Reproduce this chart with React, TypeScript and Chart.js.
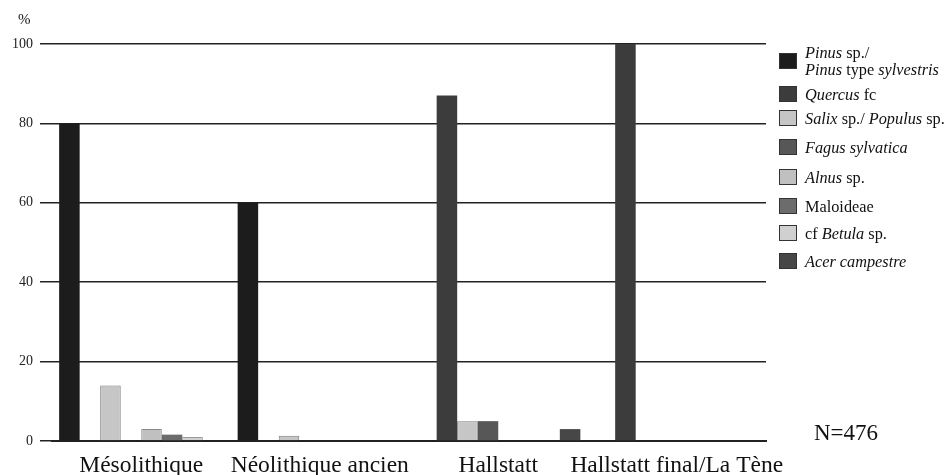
import React, { useEffect, useRef } from "react";
import { Chart, registerables } from "chart.js";

Chart.register(...registerables);

const categories = ["Mésolithique", "Néolithique ancien", "Hallstatt", "Hallstatt final/La Tène"];

const pinusValues = [80, 60, 0, 0];
const quercusValues = [0, 0, 87, 100];
const salixValues = [14, 1.3, 5, 0];
const fagusValues = [0, 0, 5, 0];
const alnusValues = [3, 0, 0, 0];
const maloideaeValues = [1.6, 0, 0, 0];
const betulaValues = [1, 0, 0, 0];
const acerValues = [0, 0, 3, 0];

const yTicks = [0, 20, 40, 60, 80, 100];
const sampleLabel = "N=476";
const unitLabel = "%";

const seriesNames = [
  "Pinus sp./ Pinus type sylvestris",
  "Quercus fc",
  "Salix sp./ Populus sp.",
  "Fagus sylvatica",
  "Alnus sp.",
  "Maloideae",
  "cf Betula sp.",
  "Acer campestre",
];

const SERIF = "'Liberation Serif', 'Times New Roman', serif";

const seriesStyle = [
  { fill: "#1c1c1c", border: "#1c1c1c", bw: 0 },
  { fill: "#3c3c3c", border: "#3c3c3c", bw: 0 },
  { fill: "#c6c6c6", border: "#7a7a7a", bw: 1 },
  { fill: "#575757", border: "#575757", bw: 0 },
  { fill: "#c0c0c0", border: "#8a8a8a", bw: 1 },
  { fill: "#6c6c6c", border: "#6c6c6c", bw: 0 },
  { fill: "#d0d0d0", border: "#9a9a9a", bw: 1 },
  { fill: "#474747", border: "#474747", bw: 0 },
];

const legendLabels: React.ReactNode[] = [
  <span>
    <i>Pinus</i> sp./
    <br />
    <i>Pinus</i> type <i>sylvestris</i>
  </span>,
  <span>
    <i>Quercus</i> fc
  </span>,
  <span>
    <i>Salix</i> sp./ <i>Populus</i> sp.
  </span>,
  <span>
    <i>Fagus sylvatica</i>
  </span>,
  <span>
    <i>Alnus</i> sp.
  </span>,
  <span>Maloideae</span>,
  <span>
    cf <i>Betula</i> sp.
  </span>,
  <span>
    <i>Acer campestre</i>
  </span>,
];

export default function App() {
  const canvasRef = useRef<HTMLCanvasElement | null>(null);

  useEffect(() => {
    const canvas = canvasRef.current;
    if (!canvas) return;
    const seriesData = [
      pinusValues,
      quercusValues,
      salixValues,
      fagusValues,
      alnusValues,
      maloideaeValues,
      betulaValues,
      acerValues,
    ];
    const chart = new Chart(canvas, {
      type: "bar",
      data: {
        labels: categories,
        datasets: seriesData.map((d, i) => ({
          label: seriesNames[i],
          data: d,
          backgroundColor: seriesStyle[i].fill,
          borderColor: seriesStyle[i].border,
          borderWidth: seriesStyle[i].bw,
          barPercentage: 1.0,
          categoryPercentage: 0.92,
        })),
      },
      options: {
        animation: false,
        responsive: false,
        maintainAspectRatio: false,
        layout: { padding: { left: 0, right: 183, top: 44, bottom: 0 } },
        plugins: {
          legend: { display: false },
          tooltip: { enabled: false },
        },
        scales: {
          x: {
            type: "category",
            grid: { display: false, drawTicks: false },
            border: { display: true, color: "#222", width: 2 },
            ticks: {
              font: { family: SERIF, size: 23.5 },
              color: "#111",
              padding: 11,
              maxRotation: 0,
              autoSkip: false,
            },
            afterFit: (scale: any) => {
              scale.height = 34;
            },
          },
          y: {
            min: 0,
            max: 100,
            afterBuildTicks: (scale: any) => {
              scale.ticks = yTicks.map((v) => ({ value: v }));
            },
            grid: {
              color: "#222",
              lineWidth: 1.5,
              drawTicks: true,
              tickLength: 12,
              tickColor: "#222",
            },
            border: { display: false },
            ticks: {
              font: { family: SERIF, size: 14 },
              color: "#222",
              padding: 7,
            },
            afterFit: (scale: any) => {
              scale.width = 52;
            },
          },
        },
      },
    });
    return () => chart.destroy();
  }, []);

  const legendCenters = [61, 94, 118, 147, 177, 206, 233, 261];

  return (
    <div
      style={{
        position: "fixed",
        left: 0,
        top: 0,
        width: 949,
        height: 475,
        overflow: "hidden",
        background: "#fff",
        fontFamily: SERIF,
        color: "#111",
      }}
    >
      <canvas ref={canvasRef} width={949} height={475} style={{ position: "absolute", left: 0, top: 0 }} />
      <div style={{ position: "absolute", left: 18, top: 11, fontSize: 15, lineHeight: "17px" }}>{unitLabel}</div>
      {legendLabels.map((lab, i) => {
        const twoLine = i === 0;
        const h = twoLine ? 34 : 17;
        return (
          <div
            key={i}
            style={{
              position: "absolute",
              left: 779,
              top: legendCenters[i] - h / 2,
              height: h,
              display: "flex",
              alignItems: "center",
              fontSize: 16.3,
              lineHeight: "17px",
              whiteSpace: "nowrap",
            }}
          >
            <div
              style={{
                width: 18,
                height: 16,
                boxSizing: "border-box",
                background: seriesStyle[i].fill,
                border: "1px solid #333",
                marginRight: 8,
                flex: "none",
              }}
            />
            {lab}
          </div>
        );
      })}
      <div style={{ position: "absolute", left: 814, top: 419, fontSize: 23, lineHeight: "27px" }}>{sampleLabel}</div>
    </div>
  );
}
